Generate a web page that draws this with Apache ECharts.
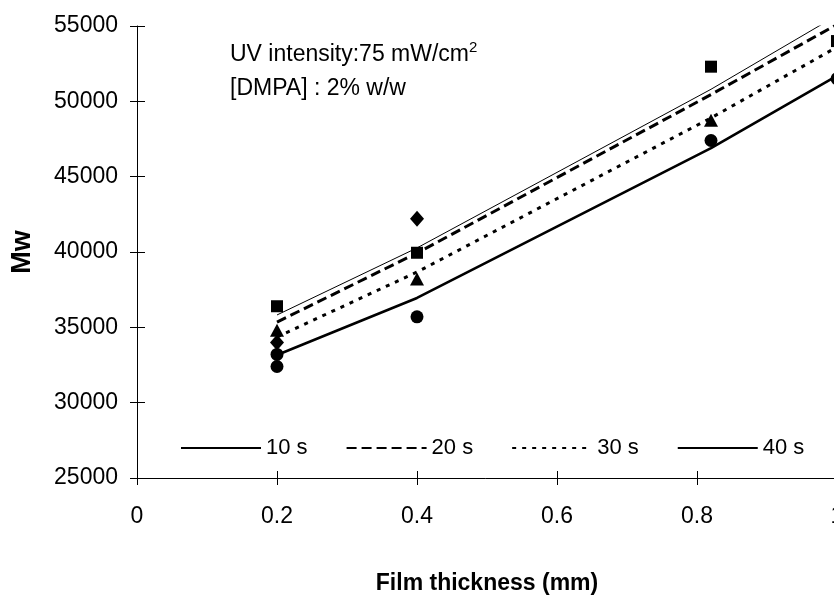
<!DOCTYPE html>
<html>
<head>
<meta charset="utf-8">
<script src="https://cdn.jsdelivr.net/npm/echarts@6/dist/echarts.min.js"></script>
<style>html,body{margin:0;padding:0;background:#fff}#c{width:834px;height:595px}</style>
</head>
<body>
<div id="c"></div>
<script>
// ---- data ----
const lineX = [0.2, 0.4, 0.82, 1.0];
const fit10s = [35820, 40270, 50800, 55700];
const fit20s = [35350, 39930, 50450, 55100];
const fit30s = [34360, 38670, 48900, 53600];
const fit40s = [33160, 36950, 46900, 51700];

const diamondX = [0.2, 0.4];
const diamondY = [34000, 42200];
const squareX = [0.2, 0.4, 0.82, 1.0];
const squareY = [36400, 39950, 52300, 54000];
const triangleX = [0.2, 0.4, 0.82];
const triangleY = [34800, 38200, 48750];
const circleX = [0.2, 0.2, 0.4, 0.82, 1.0];
const circleY = [33200, 32400, 35700, 47400, 51500];

const seriesNames = ['10 s', '20 s', '30 s', '40 s'];
const xTicks = {min: 0, max: 1, interval: 0.2};
const yTicks = {min: 25000, max: 55000, interval: 5000};

const FONT = '"Liberation Sans", Arial, sans-serif';
const zip = (xs, ys) => xs.map((x, i) => [x, ys[i]]);

const chart = echarts.init(document.getElementById('c'), null, {renderer: 'canvas'});

const lineStyles = [
  {color: '#000', width: 1, type: 'solid'},
  {color: '#000', width: 3, type: [10, 5]},
  {color: '#000', width: 3, type: [4, 6]},
  {color: '#000', width: 2.6, type: 'solid'}
];
const fits = [fit10s, fit20s, fit30s, fit40s];

const series = fits.map((ys, i) => ({
  name: seriesNames[i],
  type: 'line',
  data: zip(lineX, ys),
  symbol: 'none',
  lineStyle: lineStyles[i],
  itemStyle: {color: '#000'},
  z: 2,
  animation: false
}));

const markerSets = [
  {xs: diamondX, ys: diamondY, symbol: 'diamond', size: [14, 16]},
  {xs: squareX, ys: squareY, symbol: 'rect', size: 12},
  {xs: triangleX, ys: triangleY, symbol: 'triangle', size: [14, 13]},
  {xs: circleX, ys: circleY, symbol: 'circle', size: 13}
];
markerSets.forEach(m => series.push({
  type: 'scatter',
  data: zip(m.xs, m.ys),
  symbol: m.symbol,
  symbolSize: m.size,
  itemStyle: {color: '#000', opacity: 1},
  z: 3,
  silent: true,
  animation: false
}));

const axisBase = {
  axisLine: {show: true, lineStyle: {color: '#000', width: 1}},
  splitLine: {show: false}
};

chart.setOption({
  animation: false,
  backgroundColor: '#fff',
  grid: {left: 137, top: 26, width: 700, height: 452, containLabel: false, outerBoundsMode: 'none'},
  xAxis: [
    Object.assign({}, axisBase, {
      type: 'value', min: xTicks.min, max: xTicks.max, interval: xTicks.interval,
      name: 'Film thickness (mm)', nameLocation: 'middle', nameGap: 94,
      nameTextStyle: {fontFamily: FONT, fontSize: 23, fontWeight: 'bold', color: '#000'},
      axisTick: {show: true, length: 7, lineStyle: {color: '#000'}},
      axisLabel: {fontFamily: FONT, fontSize: 23, color: '#000', margin: 27}
    }),
    {
      type: 'value', min: xTicks.min, max: xTicks.max, interval: xTicks.interval,
      position: 'bottom', axisLine: {show: false}, splitLine: {show: false},
      axisTick: {show: true, inside: true, length: 7, lineStyle: {color: '#000'}},
      axisLabel: {show: false}
    }
  ],
  yAxis: [
    Object.assign({}, axisBase, {
      type: 'value', min: yTicks.min, max: yTicks.max, interval: yTicks.interval,
      name: 'Mw', nameLocation: 'middle', nameGap: 101, nameRotate: 90,
      nameTextStyle: {fontFamily: FONT, fontSize: 27, fontWeight: 'bold', color: '#000'},
      axisTick: {show: true, length: 7, lineStyle: {color: '#000'}},
      axisLabel: {fontFamily: FONT, fontSize: 23, color: '#000', margin: 19,
                  formatter: v => String(v)}
    }),
    {
      type: 'value', min: yTicks.min, max: yTicks.max, interval: yTicks.interval,
      position: 'left', axisLine: {show: false}, splitLine: {show: false},
      axisTick: {show: true, inside: true, length: 8, lineStyle: {color: '#000'}},
      axisLabel: {show: false}
    }
  ],
  legend: {
    data: seriesNames,
    left: 180, top: 437, padding: 0,
    itemWidth: 80, itemHeight: 14, itemGap: 38, itemTextGap: 7,
    itemStyle: {opacity: 0},
    textStyle: {fontFamily: FONT, fontSize: 22, color: '#000'},
    selectedMode: false
  },
  graphic: [
    {type: 'text', left: 230, top: 43, silent: true,
     style: {text: 'UV intensity:75 mW/cm', font: '23px ' + FONT, fill: '#000'}},
    {type: 'text', left: 469, top: 40, silent: true,
     style: {text: '2', font: '15px ' + FONT, fill: '#000'}},
    {type: 'text', left: 230, top: 77, silent: true,
     style: {text: '[DMPA] : 2% w/w', font: '23px ' + FONT, fill: '#000'}}
  ],
  series: series
});
</script>
</body>
</html>
